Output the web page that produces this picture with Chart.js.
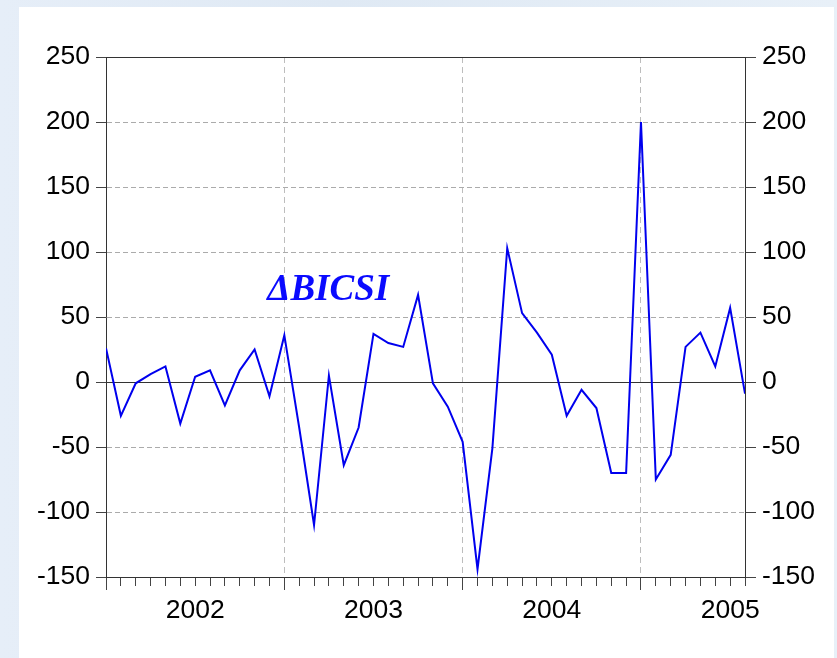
<!DOCTYPE html>
<html>
<head>
<meta charset="utf-8">
<script src="https://cdn.jsdelivr.net/npm/chart.js@4.4.1/dist/chart.umd.min.js"></script>
<style>
  html, body { margin: 0; padding: 0; }
  body {
    width: 837px; height: 658px; position: relative; overflow: hidden;
    background: linear-gradient(90deg, #e6eef8 0%, #dfe9f4 40%, #e8f0f8 100%);
  }
  #panel { position: absolute; left: 19px; top: 7px; width: 815px; height: 651px; background: #ffffff; }
  #c { position: absolute; left: 0; top: 0; }
</style>
</head>
<body>
<div id="panel"></div>
<canvas id="c" width="837" height="658"></canvas>
<script>
// Monthly observations, Jan 2002 .. Aug 2005
const months = [
  '2002M01','2002M02','2002M03','2002M04','2002M05','2002M06','2002M07','2002M08','2002M09','2002M10','2002M11','2002M12',
  '2003M01','2003M02','2003M03','2003M04','2003M05','2003M06','2003M07','2003M08','2003M09','2003M10','2003M11','2003M12',
  '2004M01','2004M02','2004M03','2004M04','2004M05','2004M06','2004M07','2004M08','2004M09','2004M10','2004M11','2004M12',
  '2005M01','2005M02','2005M03','2005M04','2005M05','2005M06','2005M07','2005M08'
];
const dBICSI = [
  26, -26, -1, 6, 12, -32, 4, 9, -18, 9, 25, -11,
  36, -35, -110, 5, -64, -35, 37, 30, 27, 67, -1, -19,
  -46, -144, -51, 103, 53, 38, 21, -26, -6, -20, -70, -70,
  200, -75, -56, 27, 38, 12, 57, -9
];
const years = ['2002', '2003', '2004', '2005'];
const yTicks = [-150, -100, -50, 0, 50, 100, 150, 200, 250];
const seriesLabel = 'ΔBICSI';
const labelAnchor = { x: 10.85, y: 63.3 };

const yearLabelAt = {};
years.forEach((y, i) => {
  const idx = Math.min(i * 12 + 6, months.length - 1);
  yearLabelAt[idx] = y;
});

const FONT = { family: '"Liberation Sans", Arial, sans-serif', size: 26.5 };

const labelPlugin = {
  id: 'seriesLabel',
  afterDatasetsDraw(chart) {
    const { ctx, scales } = chart;
    ctx.save();
    ctx.font = 'italic bold 37px "Liberation Serif", "Times New Roman", serif';
    ctx.fillStyle = '#0a0aff';
    ctx.textAlign = 'left';
    ctx.textBaseline = 'alphabetic';
    ctx.fillText(seriesLabel, scales.x.getPixelForValue(labelAnchor.x), scales.y.getPixelForValue(labelAnchor.y));
    ctx.restore();
  }
};

const yGridColor = (ctx) => {
  const v = ctx.tick ? ctx.tick.value : null;
  if (v === 0 || v === 250 || v === -150) return '#333333';
  return '#ababab';
};
const yGridDash = (ctx) => {
  const v = ctx.tick ? ctx.tick.value : null;
  if (v === null || v === 0 || v === 250 || v === -150) return [];
  return [5, 3];
};

new Chart(document.getElementById('c'), {
  type: 'line',
  data: {
    labels: months,
    datasets: [{
      label: seriesLabel,
      data: dBICSI.map((v, i) => ({ x: i, y: v })),
      borderColor: '#0000ee',
      borderWidth: 2,
      pointRadius: 0,
      tension: 0,
      fill: false,
      yAxisID: 'y'
    }]
  },
  options: {
    responsive: false,
    animation: false,
    devicePixelRatio: 1,
    layout: { padding: { top: 57, left: 0, right: 0, bottom: 0 } },
    plugins: { legend: { display: false }, tooltip: { enabled: false }, title: { display: false } },
    scales: {
      x: {
        type: 'linear',
        min: 0,
        max: months.length - 1,
        afterBuildTicks: (s) => { s.ticks = months.map((m, i) => ({ value: i })); },
        afterFit: (s) => { s.height = 81; },
        ticks: {
          autoSkip: false,
          maxRotation: 0,
          minRotation: 0,
          padding: 5,
          color: '#000',
          font: FONT,
          callback: (v) => (yearLabelAt[v] !== undefined ? yearLabelAt[v] : '')
        },
        grid: {
          drawOnChartArea: true,
          color: (ctx) => {
            const v = ctx.tick ? ctx.tick.value : null;
            return (v !== null && v > 0 && v < months.length - 1 && v % 12 === 0) ? '#bdbdbd' : 'rgba(0,0,0,0)';
          },
          tickColor: '#444444',
          tickLength: 13,
          tickBorderDash: (ctx) => {
            const v = ctx.tick ? ctx.tick.value : null;
            return (v !== null && v % 12 === 0) ? [] : [8, 40];
          }
        },
        border: { display: true, color: '#333333', width: 1, dash: (ctx) => [6, 4] }
      },
      y: {
        type: 'linear',
        position: 'left',
        min: -150,
        max: 250,
        afterBuildTicks: (s) => { s.ticks = yTicks.map(v => ({ value: v })); },
        afterFit: (s) => { s.width = 106; },
        ticks: { color: '#000', font: FONT, padding: 6 },
        grid: { color: yGridColor, tickColor: '#444444', tickLength: 10 },
        border: { display: true, color: '#333333', width: 1, dash: yGridDash }
      },
      y2: {
        type: 'linear',
        position: 'right',
        min: -150,
        max: 250,
        afterBuildTicks: (s) => { s.ticks = yTicks.map(v => ({ value: v })); },
        afterFit: (s) => { s.width = 92; },
        ticks: { color: '#000', font: FONT, padding: 6 },
        grid: { drawOnChartArea: false, color: '#444444', tickColor: '#444444', tickLength: 11 },
        border: { display: true, color: '#333333', width: 1 }
      }
    }
  },
  plugins: [labelPlugin]
});
</script>
</body>
</html>
